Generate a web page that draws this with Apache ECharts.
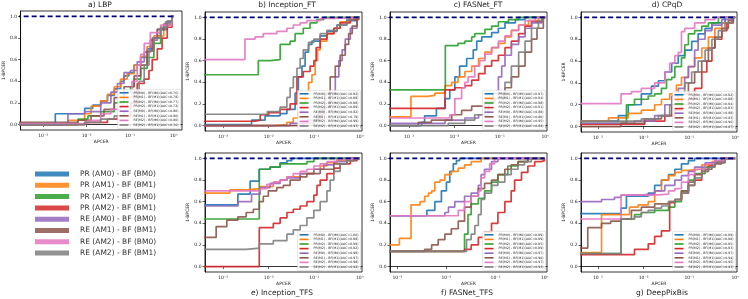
<!DOCTYPE html>
<html><head><meta charset="utf-8">
<script src="https://cdn.jsdelivr.net/npm/echarts@6/dist/echarts.min.js"></script>
<style>html,body{margin:0;padding:0;background:#fff}#c{width:748px;height:299px}</style>
</head><body><div id="c"></div>
<script>
// ---------- data ----------
const panelTitles = ['a) LBP','b) Inception_FT','c) FASNet_FT','d) CPqD','e) Inception_TFS','f) FASNet_TFS','g) DeepPixBis'];
const curveNames = ['PR(M0) - BF(M0)','PR(M1) - BF(M1)','PR(M2) - BF(M0)','PR(M2) - BF(M1)','RE(M0) - BF(M0)','RE(M1) - BF(M1)','RE(M2) - BF(M0)','RE(M2) - BF(M1)'];
const legendNames = ['PR (AM0) - BF (BM0)','PR (AM1) - BF (BM1)','PR (AM2) - BF (BM0)','PR (AM2) - BF (BM1)','RE (AM0) - BF (BM0)','RE (AM1) - BF (BM1)','RE (AM2) - BF (BM0)','RE (AM2) - BF (BM1)'];
const xTicks = [0.001, 0.01, 0.1, 1];
const yTicks = [0, 0.2, 0.4, 0.6, 0.8, 1.0];
const refLine = [[0.0001, 1], [1, 1]];

const aucLBP = [0.76,0.78,0.77,0.72,0.80,0.80,0.80,0.76];
const aucInceptionFT = [0.92,0.88,0.98,0.89,0.82,0.79,0.99,0.93];
const aucFASNetFT = [0.97,0.94,0.98,0.91,0.88,0.80,0.95,0.84];
const aucCPqD = [0.92,0.88,0.94,0.83,0.88,0.83,0.96,0.87];
const aucInceptionTFS = [1.00,0.98,0.99,0.92,0.98,0.97,0.98,0.92];
const aucFASNetTFS = [0.99,0.99,0.95,0.89,0.97,0.90,0.97,0.93];
const aucDeepPixBis = [0.99,0.98,0.95,0.93,0.97,0.94,0.95,0.93];

// ROC points [APCER, 1-BPCER]; first point stands for APCER ~ 0
const rocLBP = [
 [[1e-4,0.01],[0.0019,0.10],[0.009,0.15],[0.0138,0.18],[0.021,0.22],[0.030,0.27],[0.043,0.33],[0.060,0.40],[0.072,0.45],[0.093,0.48],[0.123,0.55],[0.174,0.62],[0.245,0.70],[0.35,0.80],[0.50,0.88],[0.71,0.95],[0.91,1],[1,1]],
 [[1e-4,0],[0.0037,0.04],[0.009,0.10],[0.0126,0.17],[0.021,0.22],[0.030,0.28],[0.043,0.35],[0.060,0.42],[0.085,0.47],[0.123,0.55],[0.174,0.63],[0.245,0.72],[0.35,0.82],[0.59,0.92],[0.91,1],[1,1]],
 [[1e-4,0],[0.0063,0.05],[0.0107,0.08],[0.021,0.12],[0.043,0.20],[0.072,0.30],[0.102,0.35],[0.123,0.42],[0.174,0.52],[0.245,0.62],[0.35,0.75],[0.50,0.88],[0.71,0.95],[0.91,1],[1,1]],
 [[1e-4,0],[0.009,0.02],[0.030,0.05],[0.051,0.08],[0.102,0.20],[0.145,0.38],[0.21,0.42],[0.27,0.50],[0.32,0.60],[0.42,0.70],[0.54,0.80],[0.71,0.90],[0.91,1],[1,1]],
 [[1e-4,0],[0.0037,0.10],[0.009,0.12],[0.021,0.20],[0.036,0.30],[0.051,0.38],[0.072,0.48],[0.102,0.50],[0.145,0.58],[0.21,0.67],[0.29,0.78],[0.42,0.88],[0.65,0.95],[0.91,1],[1,1]],
 [[1e-4,0.02],[0.0063,0.04],[0.0126,0.08],[0.025,0.14],[0.043,0.25],[0.072,0.35],[0.123,0.45],[0.174,0.55],[0.245,0.68],[0.32,0.80],[0.42,0.88],[0.59,0.93],[0.91,1],[1,1]],
 [[1e-4,0.01],[0.0107,0.04],[0.021,0.10],[0.036,0.14],[0.060,0.17],[0.085,0.25],[0.11,0.40],[0.145,0.55],[0.174,0.65],[0.21,0.75],[0.29,0.85],[0.50,0.92],[0.91,1],[1,1]],
 [[1e-4,0],[0.009,0.02],[0.021,0.05],[0.043,0.08],[0.072,0.12],[0.102,0.20],[0.123,0.30],[0.16,0.40],[0.21,0.55],[0.27,0.68],[0.35,0.80],[0.50,0.90],[0.71,0.96],[0.91,1],[1,1]]
];
const rocInceptionFT = [
 [[1e-4,0.01],[0.0042,0.05],[0.0083,0.09],[0.0178,0.11],[0.0251,0.15],[0.038,0.30],[0.0447,0.45],[0.0537,0.55],[0.063,0.68],[0.075,0.75],[0.089,0.78],[0.135,0.83],[0.19,0.87],[0.316,0.93],[0.52,0.97],[0.87,1],[1,1]],
 [[1e-4,0],[0.0126,0.01],[0.0251,0.03],[0.0347,0.07],[0.0447,0.12],[0.0537,0.20],[0.063,0.30],[0.075,0.40],[0.089,0.47],[0.105,0.60],[0.118,0.70],[0.135,0.78],[0.19,0.85],[0.27,0.90],[0.37,0.96],[0.62,1],[1,1]],
 [[1e-4,0.47],[0.0059,0.60],[0.0107,0.61],[0.0178,0.75],[0.0295,0.78],[0.038,0.85],[0.0575,0.90],[0.081,0.95],[0.115,0.98],[0.162,1],[1,1]],
 [[1e-4,0.04],[0.005,0.05],[0.0065,0.10],[0.010,0.12],[0.0178,0.15],[0.0295,0.20],[0.0417,0.45],[0.0575,0.50],[0.081,0.55],[0.098,0.60],[0.11,0.72],[0.135,0.80],[0.19,0.85],[0.27,0.90],[0.37,0.95],[0.62,0.98],[0.95,1],[1,1]],
 [[1e-4,0],[0.0295,0.02],[0.069,0.05],[0.115,0.10],[0.162,0.17],[0.224,0.30],[0.29,0.45],[0.347,0.60],[0.41,0.70],[0.48,0.80],[0.62,0.90],[0.87,1],[1,1]],
 [[1e-4,0],[0.0575,0.02],[0.098,0.05],[0.135,0.15],[0.174,0.30],[0.224,0.45],[0.29,0.55],[0.37,0.65],[0.48,0.75],[0.57,0.85],[0.68,0.92],[0.87,1],[1,1]],
 [[1e-4,0.61],[0.003,0.80],[0.005,0.82],[0.0076,0.85],[0.015,0.87],[0.0251,0.90],[0.0347,0.93],[0.049,0.95],[0.069,0.97],[0.135,0.99],[0.27,1],[1,1]],
 [[1e-4,0.105],[0.0093,0.13],[0.0178,0.17],[0.0251,0.26],[0.0295,0.35],[0.0347,0.45],[0.0417,0.53],[0.049,0.62],[0.0575,0.70],[0.075,0.77],[0.098,0.80],[0.135,0.85],[0.19,0.88],[0.316,0.93],[0.52,0.98],[0.74,1],[1,1]]
];
const rocFASNetFT = [
 [[1e-4,0],[0.0019,0.03],[0.0022,0.09],[0.004,0.16],[0.0062,0.25],[0.0079,0.33],[0.0102,0.45],[0.013,0.55],[0.0186,0.62],[0.026,0.70],[0.031,0.78],[0.04,0.82],[0.066,0.86],[0.093,0.90],[0.13,0.95],[0.22,0.98],[0.36,1],[1,1]],
 [[1e-4,0.08],[0.0011,0.27],[0.0026,0.28],[0.0037,0.30],[0.0062,0.37],[0.0087,0.40],[0.012,0.45],[0.017,0.50],[0.024,0.55],[0.034,0.62],[0.047,0.68],[0.066,0.72],[0.093,0.76],[0.13,0.82],[0.18,0.88],[0.26,0.93],[0.43,0.97],[0.71,1],[1,1]],
 [[1e-4,0.33],[0.0063,0.74],[0.012,0.76],[0.017,0.78],[0.024,0.82],[0.028,0.85],[0.047,0.89],[0.066,0.92],[0.093,0.96],[0.155,0.98],[0.26,1],[1,1]],
 [[1e-4,0.16],[0.0062,0.33],[0.0102,0.35],[0.017,0.37],[0.024,0.42],[0.034,0.48],[0.047,0.55],[0.066,0.60],[0.093,0.65],[0.13,0.72],[0.18,0.78],[0.26,0.85],[0.36,0.92],[0.50,0.96],[0.85,1],[1,1]],
 [[1e-4,0.02],[0.0062,0.05],[0.017,0.07],[0.034,0.10],[0.056,0.20],[0.072,0.30],[0.093,0.45],[0.11,0.55],[0.13,0.65],[0.18,0.75],[0.26,0.82],[0.36,0.90],[0.50,0.95],[0.85,1],[1,1]],
 [[1e-4,0],[0.0016,0.03],[0.0031,0.05],[0.0087,0.10],[0.0144,0.14],[0.024,0.18],[0.047,0.22],[0.078,0.25],[0.13,0.35],[0.18,0.45],[0.26,0.55],[0.36,0.68],[0.50,0.80],[0.66,0.90],[0.91,1],[1,1]],
 [[1e-4,0.07],[0.0079,0.10],[0.0102,0.25],[0.0144,0.35],[0.017,0.40],[0.02,0.45],[0.028,0.55],[0.036,0.60],[0.047,0.66],[0.066,0.72],[0.093,0.78],[0.13,0.83],[0.18,0.88],[0.26,0.93],[0.36,0.97],[0.60,1],[1,1]],
 [[1e-4,0],[0.0073,0.02],[0.017,0.05],[0.028,0.10],[0.047,0.20],[0.066,0.25],[0.093,0.30],[0.13,0.40],[0.18,0.55],[0.26,0.68],[0.36,0.78],[0.50,0.90],[0.71,0.97],[0.91,1],[1,1]]
];
const rocCPqD = [
 [[1e-4,0.05],[0.0028,0.10],[0.0046,0.20],[0.0089,0.30],[0.0148,0.37],[0.021,0.42],[0.029,0.50],[0.041,0.58],[0.057,0.65],[0.079,0.70],[0.112,0.78],[0.155,0.85],[0.22,0.90],[0.31,0.95],[0.60,1],[1,1]],
 [[1e-4,0.05],[0.0017,0.08],[0.0046,0.12],[0.0089,0.15],[0.0174,0.20],[0.0245,0.25],[0.037,0.30],[0.052,0.38],[0.067,0.45],[0.095,0.55],[0.13,0.63],[0.186,0.72],[0.26,0.82],[0.36,0.90],[0.51,0.95],[0.85,1],[1,1]],
 [[1e-4,0.03],[0.0042,0.20],[0.0063,0.25],[0.0126,0.28],[0.0174,0.30],[0.0245,0.35],[0.0316,0.43],[0.041,0.45],[0.048,0.55],[0.067,0.63],[0.079,0.75],[0.095,0.85],[0.13,0.88],[0.186,0.92],[0.26,0.95],[0.43,1],[1,1]],
 [[1e-4,0.02],[0.0105,0.05],[0.029,0.10],[0.048,0.15],[0.067,0.20],[0.095,0.25],[0.13,0.35],[0.186,0.50],[0.24,0.60],[0.31,0.72],[0.36,0.80],[0.51,0.88],[0.66,0.95],[0.91,1],[1,1]],
 [[1e-4,0.03],[0.0063,0.05],[0.0174,0.10],[0.029,0.20],[0.041,0.28],[0.057,0.35],[0.079,0.45],[0.095,0.55],[0.13,0.70],[0.155,0.80],[0.22,0.88],[0.31,0.93],[0.51,0.98],[0.85,1],[1,1]],
 [[1e-4,0],[0.0032,0.03],[0.0105,0.07],[0.0245,0.10],[0.041,0.20],[0.067,0.30],[0.095,0.40],[0.13,0.50],[0.186,0.60],[0.26,0.72],[0.36,0.82],[0.51,0.90],[0.71,0.97],[0.91,1],[1,1]],
 [[1e-4,0.21],[0.0032,0.30],[0.0054,0.32],[0.0089,0.35],[0.0174,0.40],[0.029,0.50],[0.037,0.58],[0.048,0.65],[0.057,0.68],[0.067,0.87],[0.079,0.90],[0.13,0.95],[0.22,0.98],[0.36,1],[1,1]],
 [[1e-4,0.05],[0.0089,0.07],[0.021,0.10],[0.037,0.20],[0.057,0.30],[0.079,0.40],[0.112,0.50],[0.155,0.60],[0.22,0.70],[0.31,0.80],[0.43,0.88],[0.60,0.95],[0.85,1],[1,1]]
];
const rocInceptionTFS = [
 [[1e-4,0.57],[0.0021,0.67],[0.0039,0.79],[0.0062,0.90],[0.0107,0.92],[0.0178,0.96],[0.0251,0.98],[0.032,1],[1,1]],
 [[1e-4,0.68],[0.0014,0.71],[0.0032,0.72],[0.0065,0.74],[0.0126,0.78],[0.0178,0.80],[0.0251,0.83],[0.049,0.86],[0.098,0.90],[0.135,0.93],[0.19,0.96],[0.316,0.98],[0.52,1],[1,1]],
 [[1e-4,0.44],[0.0062,0.90],[0.0107,0.92],[0.0178,0.95],[0.069,0.97],[0.098,1],[1,1]],
 [[1e-4,0],[0.0062,0.36],[0.0126,0.40],[0.0178,0.45],[0.0251,0.50],[0.0347,0.53],[0.049,0.56],[0.069,0.60],[0.098,0.66],[0.115,0.75],[0.135,0.80],[0.19,0.86],[0.27,0.91],[0.37,0.95],[0.62,0.98],[0.87,1],[1,1]],
 [[1e-4,0.56],[0.0021,0.60],[0.0042,0.67],[0.0065,0.73],[0.0107,0.77],[0.0178,0.80],[0.0251,0.82],[0.049,0.86],[0.098,0.90],[0.162,0.94],[0.27,0.97],[0.52,1],[1,1]],
 [[1e-4,0.27],[0.0007,0.37],[0.0012,0.43],[0.0021,0.46],[0.0032,0.50],[0.0046,0.53],[0.0062,0.60],[0.0076,0.65],[0.0098,0.70],[0.015,0.73],[0.021,0.75],[0.0295,0.80],[0.049,0.83],[0.069,0.86],[0.135,0.90],[0.27,0.95],[0.52,0.98],[0.74,1],[1,1]],
 [[1e-4,0.70],[0.0065,0.72],[0.0091,0.76],[0.0126,0.78],[0.0178,0.80],[0.0251,0.83],[0.0347,0.86],[0.049,0.88],[0.069,0.90],[0.098,0.93],[0.135,0.95],[0.19,0.97],[0.316,0.99],[0.52,1],[1,1]],
 [[1e-4,0.16],[0.0032,0.17],[0.0062,0.21],[0.0126,0.24],[0.0251,0.30],[0.0347,0.34],[0.049,0.38],[0.069,0.45],[0.098,0.52],[0.135,0.60],[0.19,0.70],[0.224,0.80],[0.27,0.88],[0.37,0.95],[0.52,0.98],[0.74,1],[1,1]]
];
const rocFASNetTFS = [
 [[1e-4,0.47],[0.004,0.52],[0.0058,0.60],[0.0079,0.70],[0.01,0.78],[0.0117,0.88],[0.0138,0.95],[0.016,0.98],[0.0186,1],[1,1]],
 [[1e-4,0.20],[0.0011,0.26],[0.0019,0.57],[0.0029,0.60],[0.0036,0.65],[0.0043,0.68],[0.005,0.70],[0.0058,0.78],[0.0074,0.80],[0.0093,0.85],[0.0126,0.88],[0.0174,0.91],[0.0234,0.94],[0.032,0.97],[0.051,1],[1,1]],
 [[1e-4,0.14],[0.0234,0.30],[0.0275,0.48],[0.032,0.58],[0.0447,0.63],[0.060,0.70],[0.083,0.78],[0.112,0.85],[0.178,0.93],[0.288,0.97],[0.457,1],[1,1]],
 [[1e-4,0.14],[0.0234,0.16],[0.032,0.20],[0.0447,0.27],[0.060,0.32],[0.083,0.40],[0.112,0.50],[0.155,0.60],[0.209,0.70],[0.245,0.80],[0.339,0.87],[0.457,0.93],[0.63,0.97],[0.85,0.98],[1,1]],
 [[1e-4,0.47],[0.0093,0.50],[0.011,0.55],[0.0148,0.60],[0.0234,0.65],[0.032,0.68],[0.0447,0.75],[0.051,0.85],[0.060,0.90],[0.083,0.97],[0.112,1],[1,1]],
 [[1e-4,0.14],[0.0036,0.16],[0.005,0.20],[0.0068,0.25],[0.0093,0.30],[0.0126,0.35],[0.0174,0.42],[0.0234,0.55],[0.032,0.65],[0.0447,0.72],[0.060,0.77],[0.083,0.80],[0.112,0.85],[0.155,0.90],[0.209,0.94],[0.288,0.97],[0.457,1],[1,1]],
 [[1e-4,0.47],[0.0174,0.52],[0.0234,0.60],[0.032,0.65],[0.0447,0.70],[0.051,0.82],[0.060,0.88],[0.076,0.95],[0.096,1],[1,1]],
 [[1e-4,0.14],[0.0257,0.25],[0.032,0.30],[0.038,0.38],[0.0447,0.48],[0.051,0.62],[0.060,0.68],[0.083,0.75],[0.112,0.78],[0.155,0.85],[0.209,0.90],[0.288,0.94],[0.389,0.97],[0.537,1],[1,1]]
];
const rocDeepPixBis = [
 [[1e-4,0.49],[0.0032,0.54],[0.0042,0.65],[0.0126,0.68],[0.0174,0.75],[0.0245,0.80],[0.035,0.85],[0.048,0.90],[0.067,0.95],[0.095,0.98],[0.13,1],[1,1]],
 [[1e-4,0.13],[0.0012,0.48],[0.0049,0.55],[0.0076,0.57],[0.0126,0.60],[0.0174,0.70],[0.0245,0.80],[0.035,0.84],[0.048,0.87],[0.067,0.89],[0.095,0.90],[0.186,0.94],[0.31,0.97],[0.51,1],[1,1]],
 [[1e-4,0.12],[0.0032,0.44],[0.0063,0.48],[0.0089,0.50],[0.0174,0.52],[0.035,0.55],[0.048,0.60],[0.067,0.70],[0.095,0.80],[0.13,0.86],[0.22,0.92],[0.36,0.97],[0.60,1],[1,1]],
 [[1e-4,0.11],[0.0063,0.16],[0.0126,0.21],[0.0174,0.28],[0.0245,0.33],[0.037,0.59],[0.048,0.62],[0.067,0.68],[0.095,0.75],[0.13,0.80],[0.186,0.88],[0.26,0.93],[0.36,0.96],[0.60,1],[1,1]],
 [[1e-4,0.60],[0.0012,0.62],[0.0023,0.64],[0.0032,0.66],[0.0076,0.67],[0.0174,0.70],[0.029,0.75],[0.048,0.80],[0.067,0.84],[0.095,0.88],[0.13,0.92],[0.22,0.96],[0.36,0.98],[0.60,1],[1,1]],
 [[1e-4,0.17],[0.0006,0.36],[0.0012,0.40],[0.0019,0.42],[0.0032,0.44],[0.0054,0.52],[0.0089,0.55],[0.0174,0.58],[0.035,0.60],[0.048,0.62],[0.067,0.70],[0.095,0.78],[0.13,0.85],[0.186,0.90],[0.31,0.95],[0.51,1],[1,1]],
 [[1e-4,0.44],[0.0032,0.66],[0.0174,0.67],[0.035,0.70],[0.048,0.72],[0.067,0.78],[0.095,0.85],[0.13,0.90],[0.22,0.95],[0.36,0.98],[0.60,1],[1,1]],
 [[1e-4,0.12],[0.0032,0.44],[0.0063,0.46],[0.0089,0.50],[0.0126,0.52],[0.0174,0.54],[0.0245,0.56],[0.035,0.60],[0.048,0.62],[0.067,0.68],[0.095,0.75],[0.13,0.82],[0.186,0.88],[0.26,0.92],[0.36,0.96],[0.60,1],[1,1]]
];

// ---------- styling / layout ----------
const colors = ['#1f77b4','#ff7f0e','#2ca02c','#d62728','#9467bd','#8c564b','#e377c2','#7f7f7f'];
const FONT = 'DejaVu Sans';
const panels = [
  {roc: rocLBP, auc: aucLBP, l:19, t:11, w:163, h:119, xmin:0.000302, xmax:1.55, yGap:12, tx:100, ty:1},
  {roc: rocInceptionFT, auc: aucInceptionFT, l:205, t:12, w:157, h:119, xmin:0.000398, xmax:1.12, yGap:15, tx:287, ty:1},
  {roc: rocFASNetFT, auc: aucFASNetFT, l:390, t:12, w:157, h:119, xmin:0.00038, xmax:1.096, yGap:15, tx:478, ty:1},
  {roc: rocCPqD, auc: aucCPqD, l:581, t:12, w:156, h:120, xmin:0.000427, xmax:1.096, yGap:15, tx:667, ty:1},
  {roc: rocInceptionTFS, auc: aucInceptionTFS, l:205, t:153, w:157, h:119, xmin:0.000398, xmax:1.12, yGap:15, tx:282, ty:289},
  {roc: rocFASNetTFS, auc: aucFASNetTFS, l:390, t:153, w:157, h:119, xmin:0.000708, xmax:1.122, yGap:15, tx:467, ty:289},
  {roc: rocDeepPixBis, auc: aucDeepPixBis, l:581, t:153, w:156, h:119, xmin:0.000427, xmax:1.096, yGap:15, tx:662, ty:289}
];
const sup = {'-':'\u207B','0':'\u2070','1':'\u00B9','2':'\u00B2','3':'\u00B3'};
function logFmt(v){
  const e = Math.round(Math.log10(v));
  if (Math.abs(Math.log10(v) - e) > 1e-6) return '';
  return '10' + String(e).split('').map(c => sup[c]).join('');
}

const grid = [], xAxis = [], yAxis = [], series = [], legend = [], title = [];
panels.forEach((p, i) => {
  grid.push({left:p.l, top:p.t, width:p.w, height:p.h, show:true, borderColor:'#000', borderWidth:0.8, backgroundColor:'#fff'});
  xAxis.push({
    type:'log', logBase:10, gridIndex:i, min:p.xmin, max:p.xmax,
    name:'APCER', nameLocation:'middle', nameGap:9,
    nameTextStyle:{fontSize:4.5, color:'#222', fontFamily:FONT},
    axisLine:{show:true, lineStyle:{color:'#000', width:0.8}},
    axisTick:{show:true, length:2.5, lineStyle:{color:'#000', width:0.6}, customValues:xTicks},
    axisLabel:{customValues:xTicks, formatter:logFmt, fontSize:4.5, color:'#222', margin:3.5, fontFamily:FONT},
    splitLine:{show:false}, minorTick:{show:false}
  });
  yAxis.push({
    type:'value', gridIndex:i, min:-0.05, max:1.05,
    name:'1-BPCER', nameLocation:'middle', nameRotate:90, nameGap:p.yGap,
    nameTextStyle:{fontSize:4.5, color:'#222', fontFamily:FONT},
    axisLine:{show:true, lineStyle:{color:'#000', width:0.8}},
    axisTick:{show:true, length:2.5, lineStyle:{color:'#000', width:0.6}, customValues:yTicks},
    axisLabel:{customValues:yTicks, formatter:v => v.toFixed(1), fontSize:4.5, color:'#222', margin:3.5, fontFamily:FONT},
    splitLine:{show:false}
  });
  const names = [];
  p.roc.forEach((curve, k) => {
    const nm = curveNames[k] + '(AUC=' + p.auc[k].toFixed(2) + ')';
    names.push(nm);
    series.push({
      type:'line', name:nm, xAxisIndex:i, yAxisIndex:i, data:curve, step:'end',
      symbol:'none', showSymbol:false, animation:false, silent:true, clip:true,
      lineStyle:{width:1.7, color:colors[k], opacity:0.9}, itemStyle:{color:colors[k]}, z:2
    });
  });
  series.push({
    type:'line', xAxisIndex:i, yAxisIndex:i, data:refLine, symbol:'none', animation:false, silent:true,
    lineStyle:{type:[5,3], color:'#000080', width:1.8}, z:3
  });
  legend.push({
    data:names, orient:'vertical', right:748 - (p.l + p.w) + 1.5, bottom:299 - (p.t + p.h) + 1.5,
    icon:'rect', itemWidth:9, itemHeight:1.6, itemGap:0.6, selectedMode:false,
    textStyle:{fontSize:3.2, lineHeight:4, color:'#222', fontFamily:FONT},
    padding:[1.5,2], backgroundColor:'rgba(255,255,255,0.85)', borderColor:'#ccc', borderWidth:0.5, borderRadius:1
  });
  title.push({text:panelTitles[i], left:p.tx, top:p.ty, textAlign:'center', padding:0,
    textStyle:{fontSize:7.5, fontWeight:'normal', color:'#222', fontFamily:FONT}});
});
// series that carry the global legend
legendNames.forEach((nm, k) => {
  series.push({type:'line', name:nm, xAxisIndex:0, yAxisIndex:0, data:[], symbol:'none',
    lineStyle:{color:colors[k]}, itemStyle:{color:colors[k], opacity:0.85}});
});
legend.push({
  data:legendNames, orient:'vertical', left:35, top:169.5, padding:0, icon:'rect', itemWidth:34, itemHeight:5,
  itemGap:2.3, selectedMode:false,
  textStyle:{fontSize:7.5, lineHeight:9, color:'#333', fontFamily:FONT, padding:[0,0,0,6]}
});

const chart = echarts.init(document.getElementById('c'), null, {renderer:'canvas'});
chart.setOption({
  animation:false, backgroundColor:'#fff', textStyle:{fontFamily:FONT},
  title, grid, xAxis, yAxis, series, legend
});
</script>
</body></html>
